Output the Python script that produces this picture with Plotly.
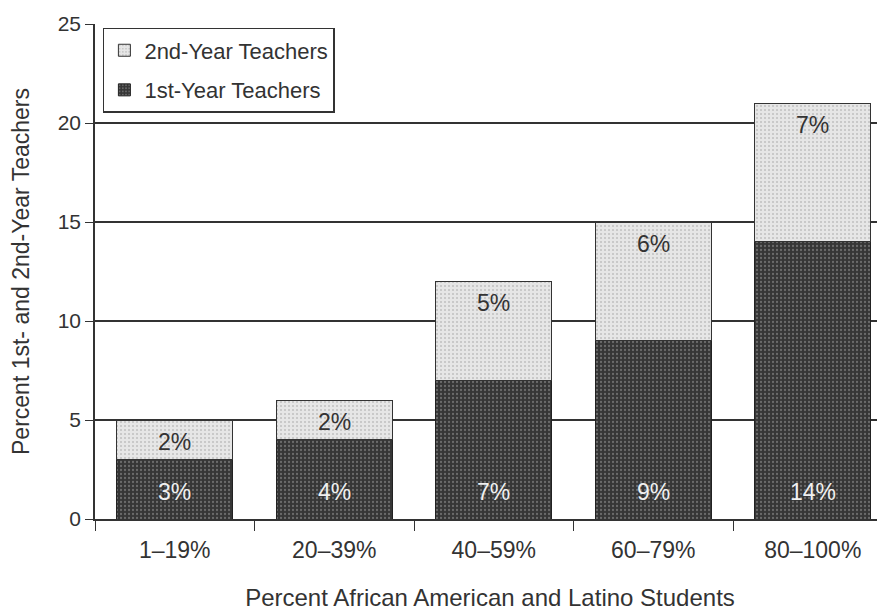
import plotly.graph_objects as go

categories = ["1–19%", "20–39%", "40–59%", "60–79%", "80–100%"]
first_year = [3, 4, 7, 9, 14]
second_year = [2, 2, 5, 6, 7]
first_labels = ["3%", "4%", "7%", "9%", "14%"]
second_labels = ["2%", "2%", "5%", "6%", "7%"]
y_ticks = [0, 5, 10, 15, 20, 25]

FONT = "Liberation Sans, Arial, sans-serif"

fig = go.Figure()
fig.add_trace(go.Bar(
    x=categories, y=first_year, name="1st-Year Teachers", legendgroup="g1",
    legendrank=2,
    marker=dict(color="#3a3a3a", line=dict(color="#222", width=1),
                pattern=dict(shape=".", fgcolor="#a0a0a0", bgcolor="#363636",
                             size=4, solidity=0.25, fillmode="overlay")),
))
fig.add_trace(go.Bar(
    x=categories, y=second_year, name="2nd-Year Teachers", legendgroup="g2",
    legendrank=1,
    marker=dict(color="#e3e3e3", line=dict(color="#333", width=1),
                pattern=dict(shape=".", fgcolor="#9a9a9a", bgcolor="#e6e6e6",
                             size=4, solidity=0.2, fillmode="overlay")),
))

annotations = []
for cat, v1, v2, t1, t2 in zip(categories, first_year, second_year, first_labels, second_labels):
    annotations.append(dict(x=cat, y=0, text=t1, showarrow=False, yshift=27,
                            font=dict(color="#f0f0f0", size=23, family=FONT)))
    annotations.append(dict(x=cat, y=v1 + v2, text=t2, showarrow=False, yshift=-22,
                            font=dict(color="#333", size=23, family=FONT)))

fig.update_layout(
    width=877, height=603,
    margin=dict(l=87, r=0, t=16, b=92, autoexpand=False),
    barmode="stack", bargap=0.27,
    paper_bgcolor="white", plot_bgcolor="white",
    font=dict(family=FONT, size=21, color="#333"),
    showlegend=True,
    legend=dict(x=0.01, y=0.992, xanchor="left", yanchor="top",
                traceorder="grouped", tracegroupgap=8,
                bordercolor="#333", borderwidth=1.5,
                bgcolor="white", font=dict(size=22, color="#333"),
                itemwidth=30),
    annotations=annotations,
)
fig.update_xaxes(
    range=[-0.5, 4.453], tickson="boundaries", ticks="outside", ticklen=10,
    tickcolor="#333", showline=True, linecolor="#333", linewidth=1.5,
    showgrid=False, automargin=False, ticklabelstandoff=10,
    title=dict(text="Percent African American and Latino Students", standoff=30,
               font=dict(size=24)),
    tickfont=dict(size=23),
)
fig.update_yaxes(
    range=[0, 25], tickvals=y_ticks, ticks="outside", ticklen=8, tickcolor="#333",
    showline=True, linecolor="#333", linewidth=1.5,
    showgrid=True, gridcolor="#333", gridwidth=1.5, zeroline=False,
    automargin=False,
    title=dict(text="Percent 1st- and 2nd-Year Teachers", standoff=24,
               font=dict(size=23)),
    tickfont=dict(size=21),
)

fig.write_html("out.html")
